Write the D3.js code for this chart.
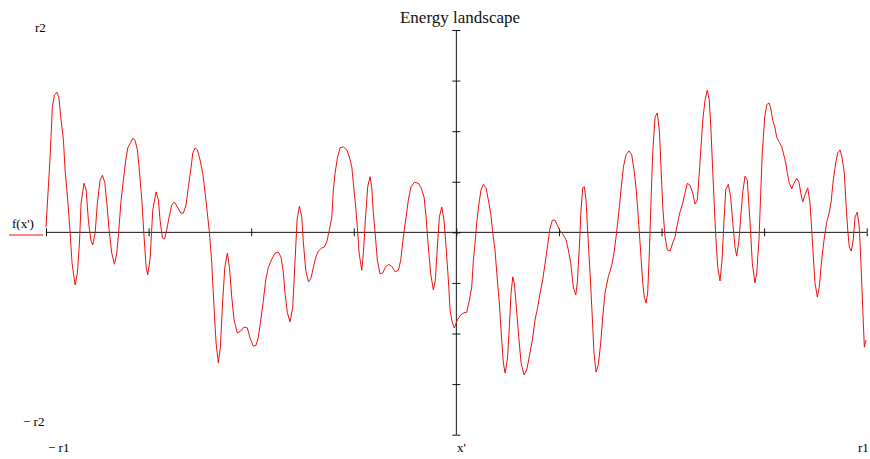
<!DOCTYPE html>
<html>
<head>
<meta charset="utf-8">
<script src="https://cdn.jsdelivr.net/npm/d3@7"></script>
<style>
  html, body { margin: 0; padding: 0; background: #fff; }
  svg { display: block; font-family: "Liberation Serif", "Times New Roman", serif; }
</style>
</head>
<body>
<div id="chart"></div>
<script>
// energy landscape (x in -r1..r1, f in -r2..r2)
const r1 = 4;
const r2 = 4;
const xTicks = [-4, -3, -2, -1, 0, 1, 2, 3, 4];
const yTicks = [-4, -3, -2, -1, 0, 1, 2, 3, 4];

const xVals = [
  -4.000, -3.977, -3.960, -3.938, -3.918, -3.895, -3.875, -3.853, -3.830, -3.814,
  -3.788, -3.765, -3.746, -3.716, -3.694, -3.674, -3.658, -3.629, -3.609, -3.587,
  -3.563, -3.544, -3.521, -3.499, -3.473, -3.450, -3.427, -3.407, -3.385, -3.359,
  -3.333, -3.310, -3.290, -3.268, -3.246, -3.226, -3.203, -3.173, -3.154, -3.132,
  -3.109, -3.090, -3.066, -3.044, -3.024, -3.008, -2.985, -2.959, -2.927, -2.904,
  -2.888, -2.865, -2.842, -2.823, -2.800, -2.774, -2.749, -2.719, -2.686, -2.661,
  -2.635, -2.612, -2.589, -2.569, -2.547, -2.524, -2.498, -2.472, -2.449, -2.427,
  -2.407, -2.384, -2.362, -2.342, -2.320, -2.300, -2.281, -2.257, -2.232, -2.212,
  -2.189, -2.167, -2.135, -2.101, -2.069, -2.037, -2.011, -1.979, -1.952, -1.930,
  -1.906, -1.881, -1.858, -1.832, -1.799, -1.767, -1.735, -1.709, -1.686, -1.670,
  -1.647, -1.621, -1.595, -1.572, -1.553, -1.530, -1.507, -1.491, -1.468, -1.442,
  -1.416, -1.394, -1.370, -1.345, -1.312, -1.287, -1.263, -1.238, -1.214, -1.199,
  -1.182, -1.160, -1.134, -1.101, -1.068, -1.043, -1.019, -1.004, -0.981, -0.965,
  -0.948, -0.922, -0.906, -0.887, -0.864, -0.841, -0.825, -0.809, -0.792, -0.770,
  -0.744, -0.717, -0.692, -0.663, -0.630, -0.597, -0.565, -0.542, -0.517, -0.490,
  -0.468, -0.442, -0.409, -0.370, -0.344, -0.315, -0.295, -0.273, -0.250, -0.224,
  -0.205, -0.185, -0.166, -0.142, -0.120, -0.100, -0.078, -0.061, -0.039, -0.019,
  0.010, 0.043, 0.075, 0.101, 0.127, 0.150, 0.166, 0.185, 0.199, 0.221,
  0.241, 0.263, 0.289, 0.312, 0.335, 0.355, 0.377, 0.394, 0.419, 0.442,
  0.458, 0.475, 0.497, 0.517, 0.533, 0.550, 0.565, 0.589, 0.611, 0.631,
  0.660, 0.686, 0.711, 0.741, 0.767, 0.793, 0.816, 0.842, 0.865, 0.887,
  0.913, 0.936, 0.962, 0.984, 1.011, 1.043, 1.069, 1.092, 1.115, 1.140,
  1.164, 1.179, 1.199, 1.215, 1.232, 1.248, 1.264, 1.281, 1.303, 1.323,
  1.342, 1.362, 1.384, 1.407, 1.427, 1.449, 1.481, 1.515, 1.537, 1.557,
  1.573, 1.589, 1.605, 1.628, 1.654, 1.683, 1.710, 1.732, 1.751, 1.768,
  1.784, 1.800, 1.817, 1.832, 1.849, 1.865, 1.881, 1.898, 1.914, 1.937,
  1.959, 1.979, 1.995, 2.012, 2.034, 2.057, 2.083, 2.109, 2.132, 2.158,
  2.180, 2.207, 2.229, 2.251, 2.278, 2.304, 2.326, 2.349, 2.368, 2.385,
  2.402, 2.424, 2.446, 2.466, 2.482, 2.499, 2.515, 2.531, 2.548, 2.570,
  2.590, 2.609, 2.626, 2.651, 2.674, 2.694, 2.716, 2.733, 2.755, 2.775,
  2.791, 2.814, 2.836, 2.853, 2.869, 2.885, 2.911, 2.928, 2.950, 2.967,
  2.982, 3.006, 3.025, 3.048, 3.064, 3.084, 3.106, 3.123, 3.148, 3.172,
  3.187, 3.211, 3.226, 3.246, 3.269, 3.291, 3.318, 3.340, 3.357, 3.376,
  3.399, 3.425, 3.447, 3.464, 3.480, 3.496, 3.519, 3.538, 3.561, 3.584,
  3.610, 3.633, 3.652, 3.674, 3.698, 3.717, 3.740, 3.759, 3.782, 3.798,
  3.815, 3.830, 3.850, 3.869, 3.886, 3.908, 3.928, 3.944, 3.961, 3.977,
  3.993
];

const fVals = [
  0.10, 0.90, 1.49, 2.48, 2.71, 2.77, 2.67, 2.22, 1.82, 1.23,
  0.64, -0.01, -0.61, -1.04, -0.80, -0.21, 0.58, 0.97, 0.84, 0.24,
  -0.15, -0.25, -0.01, 0.58, 1.03, 1.13, 0.99, 0.58, 0.05, -0.41,
  -0.63, -0.41, 0.05, 0.64, 1.03, 1.37, 1.67, 1.78, 1.86, 1.82,
  1.63, 1.23, 0.64, -0.09, -0.69, -0.84, -0.51, 0.44, 0.80, 0.64,
  0.24, -0.11, -0.13, 0.05, 0.30, 0.54, 0.60, 0.50, 0.38, 0.38,
  0.54, 0.90, 1.23, 1.57, 1.67, 1.63, 1.43, 1.17, 0.78, 0.38,
  -0.01, -0.61, -1.48, -2.19, -2.58, -2.27, -1.48, -0.69, -0.41, -0.69,
  -1.28, -1.73, -1.99, -1.95, -1.87, -1.89, -2.09, -2.25, -2.23, -2.07,
  -1.73, -1.34, -0.94, -0.69, -0.53, -0.41, -0.39, -0.49, -0.80, -1.20,
  -1.59, -1.77, -1.48, -0.55, 0.24, 0.52, 0.30, -0.21, -0.75, -0.98,
  -0.90, -0.69, -0.49, -0.37, -0.31, -0.29, -0.19, 0.05, 0.30, 0.84,
  1.17, 1.47, 1.67, 1.69, 1.63, 1.49, 1.29, 0.97, 0.50, 0.10,
  -0.41, -0.75, -0.41, 0.24, 0.90, 1.10, 0.90, 0.38, -0.01, -0.55,
  -0.82, -0.80, -0.69, -0.63, -0.67, -0.78, -0.75, -0.55, -0.09, 0.30,
  0.64, 0.90, 0.99, 0.97, 0.88, 0.70, 0.30, -0.29, -0.82, -1.14,
  -0.94, -0.29, 0.30, 0.50, 0.24, -0.29, -0.94, -1.54, -1.79, -1.89,
  -1.73, -1.63, -1.59, -1.58, -1.34, -1.08, -0.55, -0.15, 0.20, 0.58,
  0.84, 0.95, 0.88, 0.64, 0.38, -0.01, -0.35, -0.80, -1.40, -2.13,
  -2.58, -2.78, -2.52, -1.87, -1.20, -0.88, -1.00, -1.59, -2.13, -2.58,
  -2.82, -2.72, -2.46, -2.13, -1.73, -1.48, -1.20, -0.94, -0.61, -0.29,
  0.08, 0.24, 0.24, 0.14, 0.03, -0.05, -0.15, -0.35, -0.61, -1.08,
  -1.24, -1.00, -0.29, 0.44, 0.88, 0.90, 0.64, -0.01, -0.80, -1.59,
  -2.39, -2.76, -2.62, -2.19, -1.67, -1.20, -0.88, -0.65, -0.41, -0.09,
  0.20, 0.50, 0.84, 1.29, 1.53, 1.61, 1.53, 1.23, 0.90, 0.44,
  -0.01, -0.49, -1.00, -1.28, -1.40, -1.20, -0.41, 0.64, 1.57, 2.28,
  2.36, 2.02, 1.29, 0.50, -0.09, -0.35, -0.37, -0.21, -0.09, 0.20,
  0.40, 0.58, 0.78, 0.97, 0.93, 0.78, 0.56, 0.64, 1.17, 1.69,
  2.22, 2.61, 2.81, 2.61, 2.02, 1.23, 0.50, -0.15, -0.69, -0.96,
  -0.55, 0.24, 0.84, 0.95, 0.70, 0.20, -0.29, -0.47, -0.15, 0.38,
  0.78, 1.11, 1.03, 0.50, -0.01, -0.61, -1.00, -0.80, -0.15, 0.78,
  1.57, 2.28, 2.52, 2.56, 2.46, 2.22, 2.06, 1.88, 1.78, 1.69,
  1.57, 1.37, 1.17, 0.97, 0.86, 0.97, 1.07, 0.99, 0.78, 0.60,
  0.74, 0.88, 0.58, 0.05, -0.49, -1.00, -1.28, -1.08, -0.55, -0.15,
  0.20, 0.38, 0.58, 1.03, 1.37, 1.57, 1.63, 1.49, 1.17, 0.58,
  0.05, -0.29, -0.37, -0.15, 0.30, 0.40, 0.10, -0.61, -1.48, -2.27,
  -2.13
];

const width = 870;
const height = 459;
const plotLeft = 46, plotRight = 866.7, plotTop = 30, plotBottom = 434.7;

const points = xVals.map((x, i) => ({ x: x, f: fVals[i] }));

const x = d3.scaleLinear().domain([-r1, r1]).range([plotLeft, plotRight]);
const y = d3.scaleLinear().domain([-r2, r2]).range([plotBottom, plotTop]);

const svg = d3.select("#chart")
  .append("svg")
  .attr("width", width)
  .attr("height", height)
  .attr("viewBox", [0, 0, width, height]);

// horizontal axis through f = 0, ticks on both sides
const xAxis = svg.append("g")
  .attr("transform", `translate(0,${y(0)})`)
  .call(d3.axisBottom(x).tickValues(xTicks).tickSize(0).tickFormat(""));
xAxis.select(".domain").attr("stroke", "#111").attr("d", `M${plotLeft},0H${plotRight}`);
xAxis.selectAll(".tick line").attr("y1", -4).attr("y2", 4).attr("stroke", "#111");

// vertical axis through x' = 0
const yAxis = svg.append("g")
  .attr("transform", `translate(${x(0)},0)`)
  .call(d3.axisLeft(y).tickValues(yTicks).tickSize(0).tickFormat(""));
yAxis.select(".domain").attr("stroke", "#111").attr("d", `M0,${plotTop}V${plotBottom}`);
yAxis.selectAll(".tick line").attr("x1", -4).attr("x2", 4).attr("stroke", "#111");

// the curve
svg.append("path")
  .datum(points)
  .attr("fill", "none")
  .attr("stroke", "#ee1111")
  .attr("stroke-width", 1)
  .attr("stroke-linejoin", "round")
  .attr("d", d3.line().x(d => x(d.x)).y(d => y(d.f)));

// title and range labels
svg.append("text")
  .attr("x", 460)
  .attr("y", 23)
  .attr("text-anchor", "middle")
  .attr("font-size", 17)
  .attr("fill", "#111")
  .text("Energy landscape");

const labelSize = 13;
svg.append("text").attr("x", 35).attr("y", 32).attr("font-size", labelSize).text("r2");
svg.append("text").attr("x", 23).attr("y", 426).attr("font-size", labelSize).text("\u2212 r2");
svg.append("text").attr("x", 48).attr("y", 452).attr("font-size", labelSize).text("\u2212 r1");
svg.append("text").attr("x", 457).attr("y", 452).attr("font-size", labelSize).text("x'");
svg.append("text").attr("x", 858).attr("y", 452).attr("font-size", labelSize).text("r1");

// trace label with its line sample
svg.append("text").attr("x", 12).attr("y", 228).attr("font-size", labelSize).text("f(x')");
svg.append("line")
  .attr("x1", 9).attr("x2", 43)
  .attr("y1", 235).attr("y2", 235)
  .attr("stroke", "#ee1111");
</script>
</body>
</html>
